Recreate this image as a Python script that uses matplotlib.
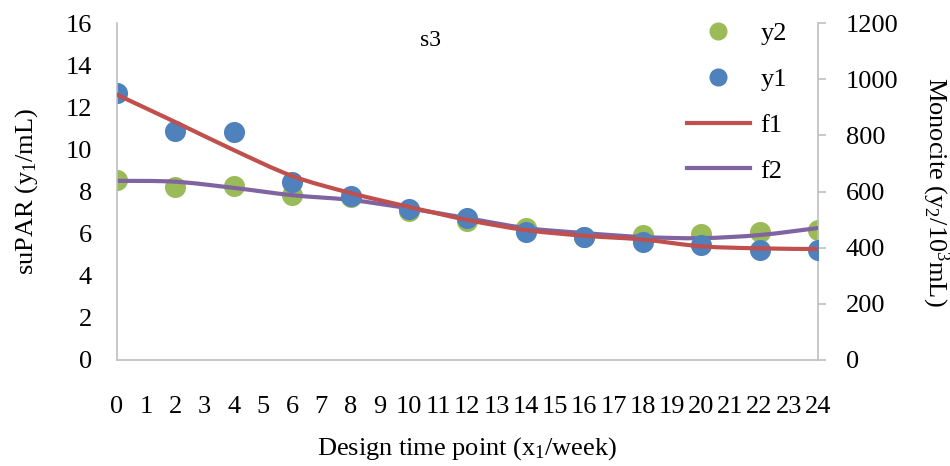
import numpy as np
import matplotlib
matplotlib.use("Agg")
import matplotlib.pyplot as plt
from matplotlib.path import Path
from matplotlib.patches import PathPatch
from matplotlib.lines import Line2D

plt.rcParams['font.family'] = ['Liberation Serif', 'DejaVu Serif']
plt.rcParams['mathtext.fontset'] = 'custom'
plt.rcParams['mathtext.rm'] = 'Liberation Serif'
plt.rcParams['mathtext.default'] = 'regular'

weeks = [0, 2, 4, 6, 8, 10, 12, 14, 16, 18, 20, 22, 24]
tick_labels = [str(i) for i in range(25)]

# suPAR (left axis)
y1 = [12.68, 10.87, 10.85, 8.45, 7.78, 7.17, 6.75, 6.08, 5.84, 5.62, 5.46, 5.22, 5.22]
f1 = [12.6, 11.3, 9.97, 8.74, 7.93, 7.27, 6.65, 6.17, 5.9, 5.72, 5.4, 5.3, 5.27]
# monocite (right axis)
y2 = [641, 615, 620, 587, 580, 530, 495, 470, 438, 445, 450, 455, 463]
f2 = [638, 635, 613, 587, 570, 540, 505, 470, 452, 438, 434, 445, 470]

blue = '#4F81BD'
green = '#9BBB59'
red = '#C0504D'
purple = '#8064A2'
grey = '#BFBFBF'
fs = 19


def smooth_path(xs, ys):
    # excel style smoothed line: catmull-rom segments as cubic beziers
    pts = np.column_stack([xs, ys]).astype(float)
    verts = [pts[0]]
    codes = [Path.MOVETO]
    n = len(pts)
    for i in range(n - 1):
        p0 = pts[i - 1] if i > 0 else pts[i]
        p1, p2 = pts[i], pts[i + 1]
        p3 = pts[i + 2] if i + 2 < n else pts[i + 1]
        verts += [p1 + (p2 - p0) / 6, p2 - (p3 - p1) / 6, p2]
        codes += [Path.CURVE4] * 3
    return Path(verts, codes)


fig = plt.figure(figsize=(9.5, 4.66), dpi=100)
ax = fig.add_axes([0.123, 0.2275, 0.738, 0.723])
ax2 = ax.twinx()
ax.set_zorder(2)
ax.patch.set_visible(False)

ax2.scatter(weeks, y2, s=230, color=green, zorder=2, linewidths=0)
ax2.add_patch(PathPatch(smooth_path(weeks, f2), fill=False, edgecolor=purple,
                        lw=3, zorder=3, capstyle='round'))
ax.scatter(weeks, y1, s=230, color=blue, zorder=2, linewidths=0)
ax.add_patch(PathPatch(smooth_path(weeks, f1), fill=False, edgecolor=red,
                       lw=3, zorder=3, capstyle='round'))

ax.set_xlim(0, 24)
ax.set_ylim(0, 16)
ax2.set_ylim(0, 1200)
ax.set_xticks(range(25))
ax.set_xticklabels(tick_labels)
ax.set_yticks(range(0, 17, 2))
ax2.set_yticks(range(0, 1201, 200))

for a in (ax, ax2):
    for s in a.spines.values():
        s.set_visible(False)
    a.tick_params(labelsize=fs)
ax.spines['left'].set_visible(True)
ax.spines['bottom'].set_visible(True)
ax.spines['left'].set_color(grey)
ax.spines['bottom'].set_color(grey)
ax2.spines['right'].set_visible(True)
ax2.spines['right'].set_color(grey)
ax.spines['left'].set_linewidth(1.2)
ax.spines['bottom'].set_linewidth(1.2)
ax2.spines['right'].set_linewidth(1.2)

ax.tick_params(axis='x', length=0, pad=26)
ax.tick_params(axis='y', length=0, pad=18)
ax2.tick_params(axis='y', length=6, width=1.2, color=grey, pad=14)

ax.set_xlabel('Design time point (x$_1$/week)', fontsize=fs, labelpad=12)
ax.set_ylabel('suPAR (y$_1$/mL)', fontsize=fs, labelpad=18)
ax2.set_ylabel('Monocite (y$_2$/10$^3$mL)', fontsize=fs, rotation=270, labelpad=38)

ax.text(0.447, 0.98, 's3', transform=ax.transAxes, fontsize=17,
        ha='center', va='top')

handles = [
    Line2D([], [], ls='none', marker='o', ms=12, color=green),
    Line2D([], [], ls='none', marker='o', ms=12, color=blue),
    Line2D([], [], color=red, lw=3),
    Line2D([], [], color=purple, lw=3),
]
ax.legend(handles, ['y2', 'y1', 'f1', 'f2'], loc='upper right',
          bbox_to_anchor=(0.99, 1.075), frameon=False, fontsize=fs,
          labelspacing=0.85, handlelength=2.4, handletextpad=0.4)

fig.savefig('out.png', dpi=100)
